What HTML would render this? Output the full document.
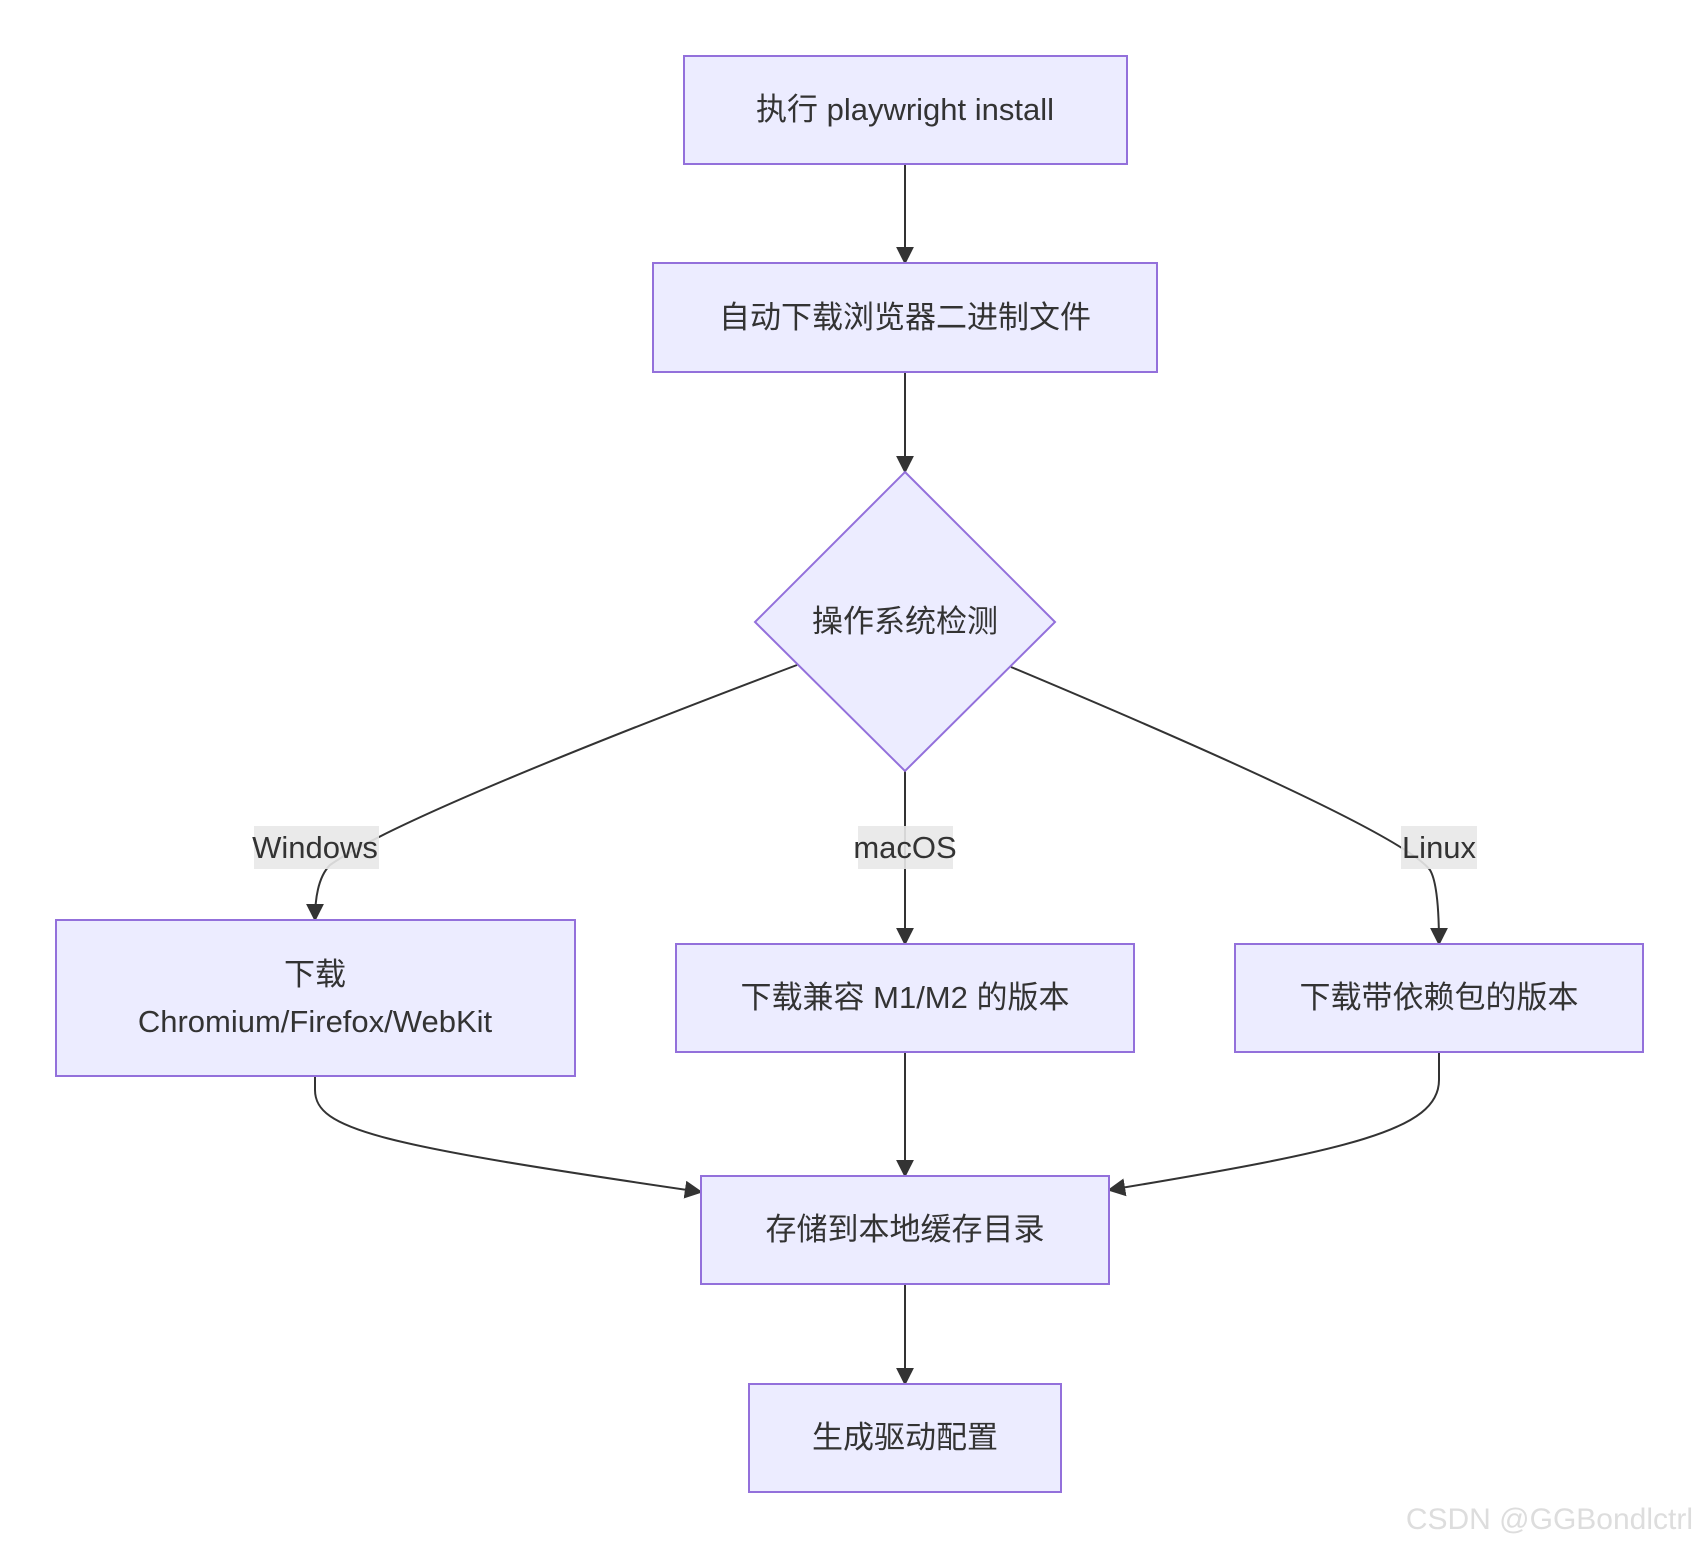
<!DOCTYPE html>
<html><head><meta charset="utf-8"><style>
html,body{margin:0;padding:0;background:#fff;}
svg{display:block;}
text{font-family:"Liberation Sans","Noto Sans CJK SC",sans-serif;fill:#333;}
</style></head><body>
<svg width="1699" height="1548" viewBox="0 0 1699 1548" xmlns="http://www.w3.org/2000/svg">
<defs>
<marker id="a" viewBox="0 0 10 10" refX="9" refY="5" markerWidth="9" markerHeight="9" markerUnits="userSpaceOnUse" orient="auto-start-reverse">
<path d="M0,0 L10,5 L0,10 z" fill="#333"/>
</marker>
<marker id="b" viewBox="0 0 10 10" refX="9" refY="5" markerWidth="18" markerHeight="18" markerUnits="userSpaceOnUse" orient="auto">
<path d="M0,0 L10,5 L0,10 z" fill="#333"/>
</marker>
</defs>
<g fill="none" stroke="#333" stroke-width="2" marker-end="url(#b)">
<path d="M905,164 L905,263"/>
<path d="M905,372 L905,472"/>
<path d="M797,665 Q400,815 330,865 Q315,880 315,920"/>
<path d="M905,771 L905,944"/>
<path d="M1011,667 Q1400,830 1430,870 Q1439,885 1439,944"/>
<path d="M315,1076 L315,1090 C315,1130 380,1145 701,1192"/>
<path d="M905,1052 L905,1176"/>
<path d="M1439,1052 L1439,1080 C1439,1130 1350,1150 1109,1190"/>
<path d="M905,1284 L905,1384"/>
</g>
<g fill="#ececff" stroke="#9370db" stroke-width="2">
<rect x="684" y="56" width="443" height="108"/>
<rect x="653" y="263" width="504" height="109"/>
<polygon points="905,472 1055,622 905,771 755,622"/>
<rect x="56" y="920" width="519" height="156"/>
<rect x="676" y="944" width="458" height="108"/>
<rect x="1235" y="944" width="408" height="108"/>
<rect x="701" y="1176" width="408" height="108"/>
<rect x="749" y="1384" width="312" height="108"/>
</g>
<g fill="#e8e8e8" opacity="0.9">
<rect x="254" y="826" width="125" height="43"/>
<rect x="858" y="826" width="95" height="43"/>
<rect x="1401" y="826" width="76" height="43"/>
</g>
<g font-size="31" text-anchor="middle">
<text x="905" y="120">执行 playwright install</text>
<text x="905" y="328">自动下载浏览器二进制文件</text>
<text x="905" y="632">操作系统检测</text>
<text x="315" y="858">Windows</text>
<text x="905" y="858">macOS</text>
<text x="1439" y="858">Linux</text>
<text x="315" y="985">下载</text>
<text x="315" y="1032">Chromium/Firefox/WebKit</text>
<text x="905" y="1008">下载兼容 M1/M2 的版本</text>
<text x="1439" y="1008">下载带依赖包的版本</text>
<text x="905" y="1240">存储到本地缓存目录</text>
<text x="905" y="1448">生成驱动配置</text>
</g>
<text x="1693" y="1529" font-size="30" text-anchor="end" style="fill:#ddd">CSDN @GGBondlctrl</text>
</svg>
</body></html>
